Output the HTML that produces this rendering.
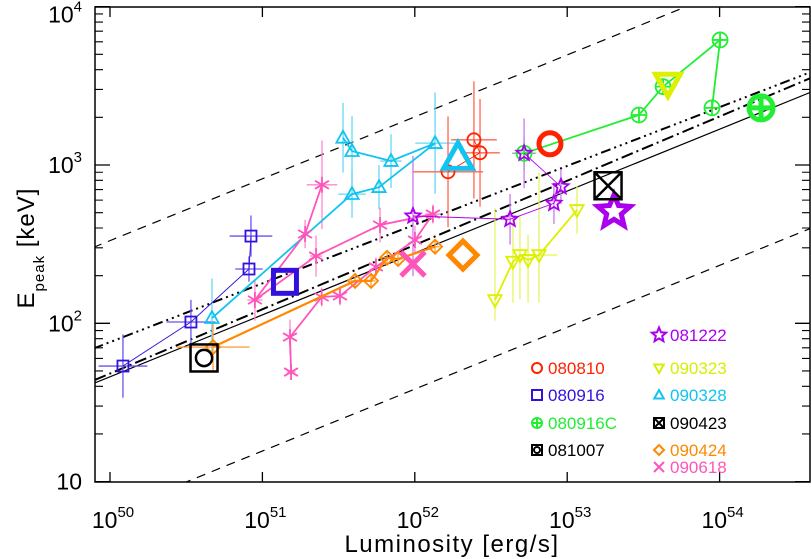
<!DOCTYPE html>
<html><head><meta charset="utf-8"><style>
body{margin:0;background:#fff}
svg{display:block;font-family:"Liberation Sans","DejaVu Sans",sans-serif}
</style></head><body>
<svg id="chart" width="811" height="559" viewBox="0 0 811 559" xmlns="http://www.w3.org/2000/svg">
<defs><clipPath id="plotclip"><rect x="95" y="7" width="715" height="475"/></clipPath></defs>
<g id="lines" clip-path="url(#plotclip)"></g>
<g id="errs" clip-path="url(#plotclip)"></g>
<g id="series" clip-path="url(#plotclip)"></g>
<g id="axes"></g>
<g id="legend"></g>
<text x="0" y="0" transform="translate(34,248) rotate(-90)" font-size="24" letter-spacing="1" fill="#000" text-anchor="middle">E<tspan font-size="15" dy="10">peak</tspan><tspan dy="-10"> [keV]</tspan></text>
<text x="452" y="552" font-size="24" letter-spacing="1.5" text-anchor="middle" fill="#000">Luminosity [erg/s]</text>
</svg>
<script>
// data in log10 units
const xTicks = [50, 51, 52, 53, 54];
const yTicks = [1, 2, 3, 4];
const yTickLabels = ["10", "10²", "10³", "10⁴"];

const logL_080916 = [50.085, 50.531, 50.912, 50.925];
const logE_080916 = [1.730, 2.008, 2.343, 2.551];
const errL_080916 = [0.16, 0.16, 0.09, 0.14];
const errE_080916 = [0.20, 0.14, 0.08, 0.13];

const logL_090328 = [50.669, 51.588, 51.765, 52.133, 51.844, 51.588, 51.529];
const logE_090328 = [2.033, 2.816, 2.860, 3.138, 3.025, 3.088, 3.172];
const errL_090328 = [0, 0.09, 0, 0.13, 0.07, 0, 0];
const errE_090328 = [0.25, 0.15, 0.14, 0.32, 0.17, 0.22, 0.22];

const logL_090618 = [51.391, 51.280, 50.951, 51.352, 51.772, 52.119, 52.001, 51.745, 51.509, 51.389, 51.181, 51.188];
const logE_090618 = [2.875, 2.564, 2.147, 2.425, 2.621, 2.690, 2.526, 2.356, 2.173, 2.166, 1.913, 1.692];
const errL_090618 = [0.10, 0, 0.05, 0.04, 0, 0.05, 0, 0, 0, 0, 0, 0.03];
const errE_090618 = [0.28, 0.09, 0.13, 0.13, 0.11, 0.06, 0.09, 0.06, 0.06, 0.06, 0.11, 0.05];

const logL_090424 = [50.676, 51.608, 51.713, 51.818, 51.890, 52.133];
const logE_090424 = [1.850, 2.268, 2.268, 2.414, 2.406, 2.484];
const errL_090424 = [0.24, 0.03, 0.03, 0.03, 0.03, 0.03];
const errE_090424 = [0.15, 0.04, 0.04, 0.04, 0.04, 0.04];

const logL_080810 = [52.218, 52.428, 52.388];
const logE_080810 = [2.957, 3.077, 3.159];
const errL_080810 = [0.23, 0.13, 0.15];
const errE_080810 = [0.35, 0.34, 0.37];

const logL_081222 = [52.717, 52.959, 52.913, 52.625, 51.988];
const logE_081222 = [3.074, 2.863, 2.758, 2.657, 2.678];
const errL_081222 = [0.07, 0, 0, 0, 0];
const errE_081222 = [0.22, 0.11, 0.13, 0.16, 0.38];

const logL_090323 = [52.526, 52.644, 52.690, 52.743, 52.815, 53.064];
const logE_090323 = [2.147, 2.389, 2.431, 2.400, 2.431, 2.716];
const errL_090323 = [0, 0, 0, 0, 0.12, 0];
const errEup_090323 = [0.58, 0.27, 0.25, 0.16, 0.52, 0.15];
const errEdn_090323 = [0.13, 0.26, 0.28, 0.27, 0.30, 0.15];

const logL_080916C = [52.717, 53.471, 53.629, 54.003, 53.950];
const logE_080916C = [3.074, 3.316, 3.495, 3.790, 3.361];
const errL_080916C = [0.08, 0, 0, 0, 0];
const errE_080916C = [0.11, 0, 0, 0, 0];

// time-integrated (large) markers: [logL, logE]
const big_080810 = [52.887, 3.134];
const big_080916 = [51.148, 2.262];
const big_080916C = [54.272, 3.361];
const big_081007 = [50.617, 1.781];
const big_081222 = [53.307, 2.705];
const big_090323 = [53.661, 3.516];
const big_090328 = [52.283, 3.045];
const big_090423 = [53.268, 2.869];
const big_090424 = [52.316, 2.431];
const big_090618 = [51.988, 2.375];

// correlation lines: [intercept logE at logL=49.9, slope]
const fitSolid = [1.623, 0.391];
const fitDashOffset = 0.86;
const fitDashDot = [1.642, 0.406];
const fitDashDotDot = [1.844, 0.371];

const NS = "http://www.w3.org/2000/svg";
const xs = l => 110 + (l - 50) * 152.4;
const ys = e => 481.6 - (e - 1) * 158.3;
function mk(tag, attrs, parent) {
  const el = document.createElementNS(NS, tag);
  for (const k in attrs) el.setAttribute(k, attrs[k]);
  parent.appendChild(el);
  return el;
}
const gL = document.getElementById('lines'), gE = document.getElementById('errs'),
      gS = document.getElementById('series'), gA = document.getElementById('axes'),
      gLeg = document.getElementById('legend');

function fitLine(fit, off, dash, name, w) {
  const l0 = 49.5, l1 = 55;
  const e0 = fit[0] + fit[1] * (l0 - 49.9) + off, e1 = fit[0] + fit[1] * (l1 - 49.9) + off;
  const ln = mk('line', {x1: xs(l0), y1: ys(e0), x2: xs(l1), y2: ys(e1), stroke: '#000', 'stroke-width': w, 'stroke-dasharray': dash, fill: 'none'}, gL);
  
  
}
fitLine(fitSolid, 0, 'none', 'best-fit-line', 1.2);
fitLine(fitSolid, fitDashOffset, '9 7', 'upper-scatter-line', 1.2);
fitLine(fitSolid, -fitDashOffset, '9 7', 'lower-scatter-line', 1.2);
fitLine(fitDashDot, 0, '12 4 2 4', 'dash-dot-line', 2);
fitLine(fitDashDotDot, 0, '10 4 2 4 2 4 2 4', 'dash-dot-dot-line', 2);

function marker(type, cx, cy, r, color, sw, parent) {
  const g = mk('g', {stroke: color, 'stroke-width': sw, fill: 'none'}, parent);
  if (type === 'circle') mk('circle', {cx, cy, r}, g);
  else if (type === 'square') mk('rect', {x: cx - r, y: cy - r, width: 2 * r, height: 2 * r}, g);
  else if (type === 'circleplus') { mk('circle', {cx, cy, r}, g); mk('path', {d: `M${cx - r} ${cy}H${cx + r}M${cx} ${cy - r}V${cy + r}`}, g); }
  else if (type === 'squaredot') { mk('rect', {x: cx - r, y: cy - r, width: 2 * r, height: 2 * r}, g); mk('circle', {cx, cy, r: r * 0.6}, g); }
  else if (type === 'squarex') { mk('rect', {x: cx - r, y: cy - r, width: 2 * r, height: 2 * r}, g); mk('path', {d: `M${cx - r} ${cy - r}L${cx + r} ${cy + r}M${cx + r} ${cy - r}L${cx - r} ${cy + r}`}, g); }
  else if (type === 'diamond') mk('path', {d: `M${cx} ${cy - r}L${cx + r} ${cy}L${cx} ${cy + r}L${cx - r} ${cy}Z`}, g);
  else if (type === 'tri') mk('path', {d: `M${cx} ${cy - r}L${cx + r * 0.95} ${cy + r * 0.7}L${cx - r * 0.95} ${cy + r * 0.7}Z`}, g);
  else if (type === 'tridown') mk('path', {d: `M${cx} ${cy + r}L${cx + r * 0.95} ${cy - r * 0.7}L${cx - r * 0.95} ${cy - r * 0.7}Z`}, g);
  else if (type === 'star') {
    let d = '';
    for (let i = 0; i < 10; i++) {
      const a = -Math.PI / 2 + i * Math.PI / 5, rr = i % 2 ? r * 0.45 : r;
      d += (i ? 'L' : 'M') + (cx + rr * Math.cos(a)).toFixed(1) + ' ' + (cy + rr * Math.sin(a)).toFixed(1);
    }
    mk('path', {d: d + 'Z', 'stroke-linejoin': 'miter'}, g);
  }
  else if (type === 'x') mk('path', {d: `M${cx - r} ${cy - r}L${cx + r} ${cy + r}M${cx + r} ${cy - r}L${cx - r} ${cy + r}`}, g);
  else if (type === 'aster') {
    let d = `M${cx} ${cy - r}V${cy + r}`;
    [30, -30].forEach(a => { const c = Math.cos(a * Math.PI / 180) * r, s = Math.sin(a * Math.PI / 180) * r; d += `M${cx - c} ${cy - s}L${cx + c} ${cy + s}`; });
    mk('path', {d}, g);
  }
  return g;
}

function series(id, L, E, eL, eUp, eDn, color, type, r, lw, errColor) {
  const g = mk('g', {}, gS);
  
  
  for (let i = 0; i < L.length; i++) {
    const x = xs(L[i]), y = ys(E[i]);
    if (eUp[i] > 0 || eDn[i] > 0) {
      const eb = mk('line', {x1: x, x2: x, y1: ys(E[i] + eUp[i]), y2: ys(E[i] - eDn[i]), stroke: errColor, 'stroke-width': 1.3}, gE);
      
      
    }
    if (eL[i] > 0) {
      const eh = mk('line', {x1: xs(L[i] - eL[i]), x2: xs(L[i] + eL[i]), y1: y, y2: y, stroke: errColor, 'stroke-width': 1.3}, gE);
      
      
    }
  }
  const pts = L.map((l, i) => xs(l).toFixed(1) + ',' + ys(E[i]).toFixed(1)).join(' ');
  const pl = mk('polyline', {points: pts, fill: 'none', stroke: color, 'stroke-width': lw}, g);
  
  
  for (let i = 0; i < L.length; i++) {
    const m = marker(type, xs(L[i]), ys(E[i]), r, color, 1.8, g);
    
    
  }
}
const C = {b: '#3311dd', c: '#11c4f0', p: '#ff55bb', o: '#ff8800', r: '#ff2200', v: '#aa00ee', y: '#ddf000', g: '#22ee33', k: '#000'};
series('080916', logL_080916, logE_080916, errL_080916, errE_080916, errE_080916, C.b, 'square', 5.5, 0.9, '#6655ee');
series('090328', logL_090328, logE_090328, errL_090328, errE_090328, errE_090328, C.c, 'tri', 7, 1.8, '#66d8f5');
series('090618', logL_090618, logE_090618, errL_090618, errE_090618, errE_090618, C.p, 'aster', 8, 1.8, '#ff88cc');
series('090424', logL_090424, logE_090424, errL_090424, errE_090424, errE_090424, C.o, 'diamond', 7, 2.2, '#ffa040');
series('080810', logL_080810, logE_080810, errL_080810, errE_080810, errE_080810, C.r, 'circle', 6.5, 0.9, '#ff6650');
series('080916C', logL_080916C, logE_080916C, errL_080916C, errE_080916C, errE_080916C, C.g, 'circleplus', 7.5, 1.8, '#44ee55');
series('081222', logL_081222, logE_081222, errL_081222, errE_081222, errE_081222, C.v, 'star', 8, 0.9, '#cc77ee');
series('090323', logL_090323, logE_090323, errL_090323, errEup_090323, errEdn_090323, C.y, 'tridown', 7, 1.8, '#e6f560');

function big(id, p, type, color, r, sw) {
  const m = marker(type, xs(p[0]), ys(p[1]), r, color, sw, gS);
  
  
}
big('080810', big_080810, 'circle', C.r, 11, 5);
big('080916', big_080916, 'square', C.b, 11.5, 5);
big('080916C', big_080916C, 'circleplus', C.g, 12, 5);
big('081007', big_081007, 'squaredot', C.k, 13.5, 2.5);
big('081222', big_081222, 'star', C.v, 17, 5);
big('090323', big_090323, 'tridown', C.y, 13, 5);
big('090328', big_090328, 'tri', C.c, 15, 5);
big('090423', big_090423, 'squarex', C.k, 13.5, 2.5);
big('090424', big_090424, 'diamond', C.o, 14, 5);
big('090618', big_090618, 'x', C.p, 12, 5);

const frame = mk('rect', {x: 95, y: 7, width: 715, height: 475, fill: 'none', stroke: '#000', 'stroke-width': 1.5}, gA);


xTicks.forEach(t => {
  const x = xs(t);
  const tk = mk('path', {d: `M${x} 482V472M${x} 7V17`, stroke: '#000', 'stroke-width': 1.3}, gA);
  
  
  const lb = mk('text', {x: x + 3, y: 528, 'font-size': 23, 'text-anchor': 'middle'}, gA);
  
  
  lb.innerHTML = '10<tspan font-size="15" dy="-11">' + t + '</tspan>';
});
yTicks.forEach((t, i) => {
  const y = ys(t);
  const tk = mk('path', {d: `M95 ${y}H110M810 ${y}H795`, stroke: '#000', 'stroke-width': 1.3}, gA);
  
  
  const lb = mk('text', {x: 82, y: y + 8 + (t === 4 ? 8 : 0), 'font-size': 23, 'text-anchor': 'end'}, gA);
  
  
  lb.innerHTML = t === 1 ? '10' : '10<tspan font-size="15" dy="-11">' + t + '</tspan>';
  if (t < 4) for (let m = 2; m < 10; m++) {
    const ym = ys(t + Math.log10(m));
    const mt = mk('path', {d: `M95 ${ym}H103M810 ${ym}H802`, stroke: '#000', 'stroke-width': 1.1}, gA);
    
    
  }
});

const legNames = ['080810', '080916', '080916C', '081007', '081222', '090323', '090328', '090423', '090424', '090618'];
const legTypes = ['circle', 'square', 'circleplus', 'squaredot', 'star', 'tridown', 'tri', 'squarex', 'diamond', 'x'];
const legColors = [C.r, C.b, C.g, C.k, C.v, '#d8ee00', C.c, C.k, C.o, C.p];
const legX = [537, 537, 537, 537, 659, 659, 659, 659, 659, 659];
const legY = [368, 395, 423, 450, 335, 368, 395, 423, 450, 467];
legNames.forEach((n, i) => {
  const g = mk('g', {}, gLeg);
  
  
  marker(legTypes[i], legX[i], legY[i], legTypes[i] === 'star' ? 7.5 : 5, legColors[i], 2, g);
  const t = mk('text', {x: legX[i] + 11, y: legY[i] + 6, 'font-size': 17, fill: legColors[i]}, g);
  t.textContent = n;
});
</script>
</body></html>
